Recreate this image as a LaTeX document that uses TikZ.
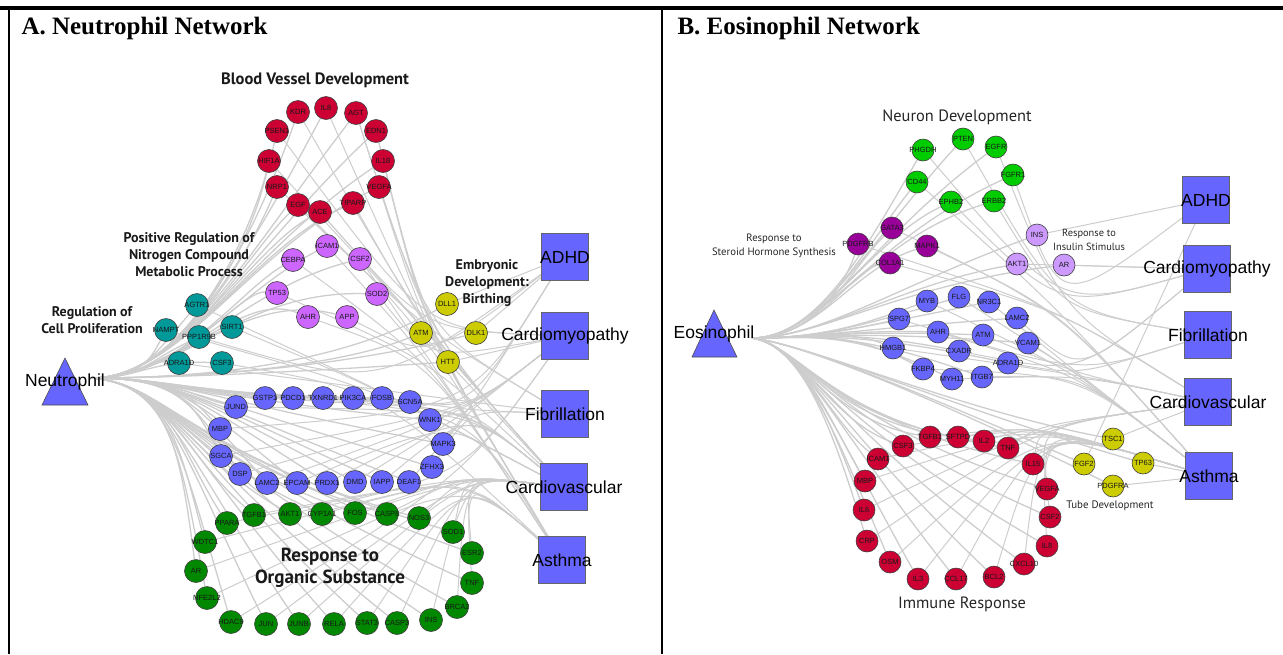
\documentclass[tikz,border=0pt]{standalone}
\usepackage{fontspec}
\setmainfont{Liberation Sans}
\newfontfamily\titlefont{Liberation Serif}
\newfontfamily\clfont{PT Sans}
\usetikzlibrary{backgrounds}
\definecolor{redC}{HTML}{CC0033}
\definecolor{purpA}{HTML}{CC66FF}
\definecolor{tealC}{HTML}{009999}
\definecolor{yelC}{HTML}{CCCC00}
\definecolor{blueC}{HTML}{6666FF}
\definecolor{greenA}{HTML}{008800}
\definecolor{greenB}{HTML}{00CC00}
\definecolor{dpurp}{HTML}{990099}
\definecolor{lpurp}{HTML}{CC99FF}
\definecolor{edgeC}{HTML}{CDCDCD}
\tikzset{
  gene/.style={circle, draw=black!75, line width=0.6pt, minimum size=23pt, inner sep=0pt,
    font=\fontsize{7.5}{7.5}\selectfont, text=black!90},
  geneB/.style={gene, minimum size=22pt},
  gred/.style={gene, fill=redC},
  gpurp/.style={gene, fill=purpA},
  gteal/.style={gene, fill=tealC},
  gyel/.style={gene, fill=yelC},
  gblue/.style={gene, fill=blueC},
  ggreen/.style={gene, fill=greenA},
  bred/.style={geneB, fill=redC},
  bgreen/.style={geneB, fill=greenB},
  bdpurp/.style={geneB, fill=dpurp},
  blpurp/.style={geneB, fill=lpurp},
  bblue/.style={geneB, fill=blueC},
  byel/.style={geneB, fill=yelC},
  disease/.style={rectangle, draw=black!60, line width=0.6pt, fill=blueC, minimum size=47pt,
    inner sep=0pt, font=\fontsize{17.5}{17.5}\selectfont, text=black},
  celledge/.style={draw=edgeC, line width=1.3pt},
  disedge/.style={draw=edgeC, line width=1.0pt},
  clbold/.style={font=\clfont\bfseries\fontsize{14}{17}\selectfont, align=center, text=black!90},
  clreg/.style={font=\clfont\fontsize{10.7}{13.5}\selectfont, align=center, text=black!85},
  titlestyle/.style={font=\titlefont\bfseries\fontsize{25}{25}\selectfont, anchor=west},
  cellfont/.style={font=\fontsize{17.5}{17.5}\selectfont, text=black},
}
\def\redA{KDR/298/112,IL8/326/108,AGT/356/113,PSEN1/277/131,EDN1/376/131,HIF1A/269/161,IL18/383/161,NRP1/277/187,VEGFA/379/187,EGF/298/205,TIPARP/353/203,ACE/320/212}
\def\purpA{ICAM1/327/246,CEBPA/293/260,CSF2/360/259,TP53/277/293,SOD2/377/294,AHR/308/317,APP/347/317}
\def\tealA{AGTR1/197/305,NAMPT/166/330,PPP1R9B/199/337,SIRT1/232/327,ADRA1D/179/363,CSF3/222/363}
\def\yelA{DLL1/447/304,ATM/421/333,DLK1/476/333,HTT/448/362}
\def\blueA{GSTP1/265/398,PDCD1/293/398,TXNRD1/323/398,PIK3CA/353/398,FOSB/382/398,SCN5A/410/402,JUND/236/407,WNK1/430/420,MBP/220/429,MAPK3/443/444,SGCA/221/456,ZFHX3/432/467,DSP/240/474,LAMC2/267/483,EPCAM/297/483,PRDX1/327/483,DMD/355/482,IAPP/382/482,DEAF1/409/482}
\def\greenA{TGFB1/254/515,AKT1/290/514,CYP1A1/322/514,FOS/355/513,CASP8/387/514,NOS3/419/518,PPARA/227/523,SOD1/453/532,WDTC1/205/542,ESR2/472/553,AR/196/571,TNF/472/583,NFE2L2/207/598,BRCA2/457/607,HDAC9/231/622,JUN/266/624,JUNB/299/624,RELA/334/624,STAT3/367/623,CASP3/397/623,INS/431/620}
\def\greenB{PHGDH/923/150,PTEN/963/139,EGFR/996/147,CD44/917/182,FGFR1/1013/175,EPHB2/951/202,ERBB2/994/201}
\def\dpurpB{GATA3/892/228,PDGFRB/858/244,MAPK1/927/246,COL1A1/890/263}
\def\lpurpB{INS/1037/235,AKT1/1017/264,AR/1064/265}
\def\blueB{MYB/927/301,FLG/959/297,NR3C1/989/302,SPG7/899/319,LAMC2/1017/318,AHR/938/332,ATM/983/335,VCAM1/1028/343,HMGB1/893/348,CXADR/959/351,ADRA1D/1008/363,FKBP4/923/369,MYH11/952/379,ITGB7/982/377}
\def\redB{CSF3/903/446,TGFB1/930/437,SFTPD/958/437,IL2/984/441,TNF/1008/448,ICAM1/878/459,IL15/1033/464,MBP/865/481,VEGFA/1047/489,IL6/864/510,CSF2/1050/517,CRP/867/541,IL8/1047/546,OSM/890/562,CXCL10/1024/564,IL3/918/579,CCL17/956/579,BCL2/994/577}
\def\yelB{TSC1/1113/439,FGF2/1084/464,TP63/1143/463,PDGFRA/1113/486}
\begin{document}
\begin{tikzpicture}[x=1pt,y=-1pt]
\useasboundingbox (0,0) rectangle (1283,654);
% frame
\draw[line width=4pt] (0,8) -- (1283,8);
\draw[line width=2pt] (9,7) -- (9,654);
\draw[line width=2pt] (662,7) -- (662,654);
\node[titlestyle] (titleA) at (18,28) {A. Neutrophil Network};
\node[titlestyle] (titleB) at (674,28) {B. Eosinophil Network};

% ---------- Panel A ----------
\fill[blueC, draw=black!70, line width=0.6pt] (65,358) -- (88,405) -- (42,405) -- cycle;
\node[cellfont] (aNlab) at (65,382) {Neutrophil};
\coordinate (aN) at (92,378);

\foreach \n/\x/\y in \redA {\node[gred] (a\n) at (\x,\y) {\makebox[0pt]{\n}};}
\foreach \n/\x/\y in \purpA {\node[gpurp] (a\n) at (\x,\y) {\makebox[0pt]{\n}};}
\foreach \n/\x/\y in \tealA {\node[gteal] (a\n) at (\x,\y) {\makebox[0pt]{\n}};}
\foreach \n/\x/\y in \yelA {\node[gyel] (a\n) at (\x,\y) {\makebox[0pt]{\n}};}
\foreach \n/\x/\y in \blueA {\node[gblue] (a\n) at (\x,\y) {\makebox[0pt]{\n}};}
\foreach \n/\x/\y in \greenA {\node[ggreen] (a\n) at (\x,\y) {\makebox[0pt]{\n}};}

\node[disease] (aADHD) at (565,257) {\makebox[0pt]{ADHD}};
\node[disease] (aCm) at (565,336) {\makebox[0pt]{Cardiomyopathy}};
\node[disease] (aFib) at (565,414) {\makebox[0pt]{Fibrillation}};
\node[disease] (aCv) at (564,487) {\makebox[0pt]{Cardiovascular}};
\node[disease] (aAs) at (562,560) {\makebox[0pt]{Asthma}};

\node[clbold, font=\clfont\bfseries\fontsize{16.5}{19}\selectfont] (lBVD) at (315,80) {Blood Vessel Development};
\node[clbold] (lPRN) at (189,255) {Positive Regulation of\\Nitrogen Compound\\Metabolic Process};
\node[clbold] (lRCP) at (92,320) {Regulation of\\Cell Proliferation};
\node[clbold] (lEDB) at (487,283) {Embryonic\\Development:\\Birthing};
\node[clbold, font=\clfont\bfseries\fontsize{19}{22}\selectfont] (lROS) at (330,568) {Response to\\Organic Substance};

% ---------- Panel B ----------
\fill[blueC, draw=black!70, line width=0.6pt] (714,310) -- (737,357) -- (692,357) -- cycle;
\node[cellfont] (bElab) at (714,334) {Eosinophil};
\coordinate (bE) at (752,338);

\foreach \n/\x/\y in \greenB {\node[bgreen] (b\n) at (\x,\y) {\makebox[0pt]{\n}};}
\foreach \n/\x/\y in \dpurpB {\node[bdpurp] (b\n) at (\x,\y) {\makebox[0pt]{\n}};}
\foreach \n/\x/\y in \lpurpB {\node[blpurp] (b\n) at (\x,\y) {\makebox[0pt]{\n}};}
\foreach \n/\x/\y in \blueB {\node[bblue] (b\n) at (\x,\y) {\makebox[0pt]{\n}};}
\foreach \n/\x/\y in \redB {\node[bred] (b\n) at (\x,\y) {\makebox[0pt]{\n}};}
\foreach \n/\x/\y in \yelB {\node[byel] (b\n) at (\x,\y) {\makebox[0pt]{\n}};}

\node[disease] (bADHD) at (1206,200) {\makebox[0pt]{ADHD}};
\node[disease] (bCm) at (1207,269) {\makebox[0pt]{Cardiomyopathy}};
\node[disease] (bFib) at (1208,335) {\makebox[0pt]{Fibrillation}};
\node[disease] (bCv) at (1208,402) {\makebox[0pt]{Cardiovascular}};
\node[disease] (bAs) at (1209,476) {\makebox[0pt]{Asthma}};

\node[clreg, font=\clfont\fontsize{16.4}{19}\selectfont] (lND) at (957,117) {Neuron Development};
\node[clreg] (lRSH) at (774,246) {Response to\\Steroid Hormone Synthesis};
\node[clreg, font=\clfont\fontsize{10.4}{13.5}\selectfont] (lRIS) at (1089,240) {Response to\\Insulin Stimulus};
\node[clreg, font=\clfont\fontsize{16.4}{19}\selectfont] (lIR) at (962,604) {Immune Response};
\node[clreg, font=\clfont\fontsize{10.9}{13}\selectfont] (lTD) at (1110,506) {Tube Development};

% ---------- edges ----------
\begin{scope}[on background layer]
% A: cell edges
\foreach \n/\x/\y in \redA {\draw[celledge] (aN) .. controls (180,378) and (250,250) .. (a\n);}
\foreach \n/\x/\y in \purpA {\draw[celledge] (aN) .. controls (180,378) and (240,290) .. (a\n);}
\foreach \n/\x/\y in \tealA {\draw[celledge] (aN) .. controls (140,378) and (150,360) .. (a\n);}
\foreach \n/\x/\y in \yelA {\draw[celledge] (aN) .. controls (180,378) and (330,370) .. (a\n);}
\foreach \n/\x/\y in \blueA {\draw[celledge] (aN) .. controls (170,378) and (190,395) .. (a\n);}
\foreach \n/\x/\y in \greenA {\draw[celledge] (aN) .. controls (170,385) and (180,450) .. (a\n);}
% A: disease edges
\foreach \n/\d in {KDR/aCv,IL8/aAs,AGT/aCv,PSEN1/aCm,EDN1/aCv,HIF1A/aCv,IL18/aAs,NRP1/aFib,VEGFA/aAs,EGF/aAs,TIPARP/aCv,ACE/aCm,ACE/aCv,AGT/aFib,EDN1/aAs}
  {\draw[disedge] (a\n) .. controls (425,330) .. (\d);}
\foreach \n/\d in {ICAM1/aAs,CEBPA/aAs,CSF2/aAs,TP53/aCv,SOD2/aCm,AHR/aAs,APP/aADHD}
  {\draw[disedge] (a\n) .. controls (430,360) .. (\d);}
\foreach \n/\d in {AGTR1/aCv,NAMPT/aCv,PPP1R9B/aADHD,SIRT1/aCv,ADRA1D/aFib,CSF3/aAs}
  {\draw[disedge] (a\n) .. controls (380,390) .. (\d);}
\foreach \n/\d in {DLL1/aADHD,ATM/aCv,DLK1/aADHD,HTT/aCm}
  {\draw[disedge] (a\n) -- (\d);}
\foreach \n/\d in {GSTP1/aAs,PDCD1/aCv,TXNRD1/aCv,PIK3CA/aCm,FOSB/aADHD,SCN5A/aFib,JUND/aCv,WNK1/aCv,MBP/aADHD,MAPK3/aCm,SGCA/aCm,ZFHX3/aFib,DSP/aCm,LAMC2/aCm,EPCAM/aAs,PRDX1/aCv,DMD/aCm,IAPP/aCv,DEAF1/aADHD}
  {\draw[disedge] (a\n) .. controls (470,410) .. (\d);}
\foreach \n/\d in {TGFB1/aAs,AKT1/aCm,CYP1A1/aAs,FOS/aCv,CASP8/aCv,NOS3/aCv,PPARA/aCv,SOD1/aCv,WDTC1/aCv,ESR2/aCv,AR/aCv,TNF/aAs,NFE2L2/aAs,BRCA2/aCv,HDAC9/aCm,JUN/aCv,JUNB/aCv,RELA/aAs,STAT3/aAs,CASP3/aCv,INS/aCv}
  {\draw[disedge] (a\n) .. controls (465,475) .. (\d);}
% B: cell edges
\foreach \n/\x/\y in \greenB {\draw[celledge] (bE) .. controls (820,338) and (870,240) .. (b\n);}
\foreach \n/\x/\y in \dpurpB {\draw[celledge] (bE) .. controls (820,338) and (850,270) .. (b\n);}
\foreach \n/\x/\y in \lpurpB {\draw[celledge] (bE) .. controls (820,338) and (900,285) .. (b\n);}
\foreach \n/\x/\y in \blueB {\draw[celledge] (bE) .. controls (810,338) and (850,330) .. (b\n);}
\foreach \n/\x/\y in \redB {\draw[celledge] (bE) .. controls (800,345) and (830,420) .. (b\n);}
\foreach \n/\x/\y in \yelB {\draw[celledge] (bE) .. controls (810,345) and (960,410) .. (b\n);}
% B: disease edges
\foreach \n/\d in {PHGDH/bCm,PTEN/bFib,EGFR/bCv,CD44/bAs,FGFR1/bADHD,EPHB2/bCm,ERBB2/bFib,GATA3/bAs,PDGFRB/bCv,MAPK1/bAs,COL1A1/bCv}
  {\draw[disedge] (b\n) .. controls (1060,310) .. (\d);}
\foreach \n/\d in {INS/bADHD,AKT1/bCm,AR/bCm}
  {\draw[disedge] (b\n) -- (\d);}
\foreach \n/\d in {MYB/bAs,FLG/bAs,NR3C1/bAs,SPG7/bFib,LAMC2/bCm,AHR/bAs,ATM/bCv,VCAM1/bAs,HMGB1/bCv,CXADR/bCm,ADRA1D/bFib,FKBP4/bAs,MYH11/bCv,ITGB7/bAs}
  {\draw[disedge] (b\n) .. controls (1080,375) .. (\d);}
\foreach \n/\d in {CSF3/bAs,TGFB1/bAs,SFTPD/bAs,IL2/bAs,TNF/bCv,ICAM1/bAs,IL15/bAs,MBP/bAs,VEGFA/bCv,IL6/bCv,CSF2/bAs,CRP/bCv,IL8/bAs,OSM/bAs,CXCL10/bAs,IL3/bAs,CCL17/bAs,BCL2/bAs}
  {\draw[disedge] (b\n) .. controls (1040,425) .. (\d);}
\foreach \n/\d in {TSC1/bCv,FGF2/bADHD,TP63/bAs,PDGFRA/bAs}
  {\draw[disedge] (b\n) -- (\d);}
\end{scope}
\end{tikzpicture}
\end{document}
